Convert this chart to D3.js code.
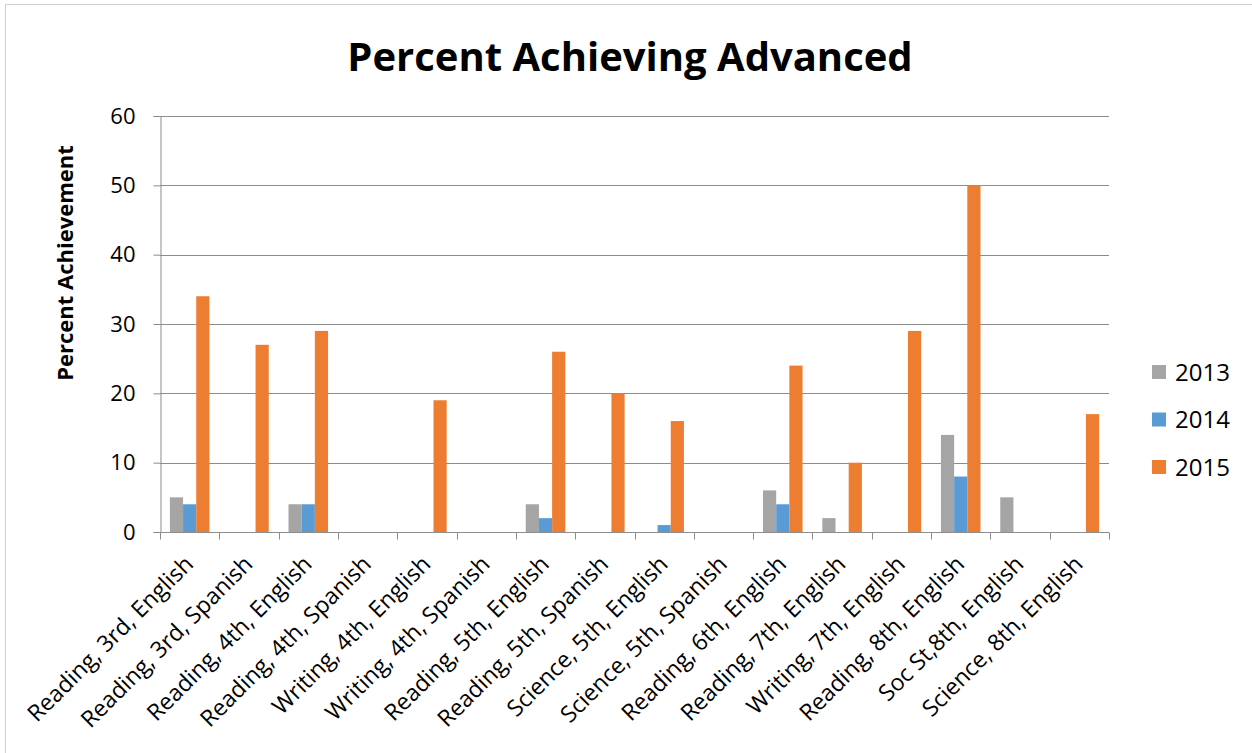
<!DOCTYPE html>
<html>
<head>
<meta charset="utf-8">
<script src="https://cdn.jsdelivr.net/npm/d3@7"></script>
<style>
    body { margin: 0; background: #fff; }
    svg { display: block; font-family: "Open Sans", sans-serif; }
</style>
</head>
<body>
<svg id="chart" width="1252" height="753"></svg>
<script>

// Chart data
const categories = [
    "Reading, 3rd, English", "Reading, 3rd, Spanish", "Reading, 4th, English",
    "Reading, 4th, Spanish", "Writing, 4th, English", "Writing, 4th, Spanish",
    "Reading, 5th, English", "Reading, 5th, Spanish", "Science, 5th, English",
    "Science, 5th, Spanish", "Reading, 6th, English", "Reading, 7th, English",
    "Writing, 7th, English", "Reading, 8th, English", "Soc St,8th, English",
    "Science, 8th, English"
];
const seriesNames = ["2013", "2014", "2015"];
const values2013 = [5, 0, 4, 0, 0, 0, 4, 0, 0, 0, 6, 2, 0, 14, 5, 0];
const values2014 = [4, 0, 4, 0, 0, 0, 2, 0, 1, 0, 4, 0, 0, 8, 0, 0];
const values2015 = [34, 27, 29, 0, 19, 0, 26, 20, 16, 0, 24, 10, 29, 50, 0, 17];
const yTicks = [0, 10, 20, 30, 40, 50, 60];
const colors = ["#A5A5A5", "#5B9BD5", "#ED7D31"];

const seriesValues = [values2013, values2014, values2015];

// Plot area
const plot = { left: 160, right: 1109, top: 116, bottom: 532 };

const svg = d3.select("#chart");

// Outer chart border
svg.append("rect")
    .attr("x", 5.5).attr("y", 4.5)
    .attr("width", 1260).attr("height", 760)
    .attr("fill", "none")
    .attr("stroke", "#D0D0D0")
    .attr("stroke-width", 1);

// Scales
const x = d3.scaleBand()
    .domain(categories)
    .range([plot.left, plot.right])
    .paddingInner(0).paddingOuter(0);

// Excel style gap width of 150% between groups
const bw = x.bandwidth();
const gap = bw * 1.5 / 4.5;
const xInner = d3.scaleBand()
    .domain(seriesNames)
    .range([gap / 2, bw - gap / 2]);

const y = d3.scaleLinear()
    .domain([0, 60])
    .range([plot.bottom, plot.top]);

// Gridlines
svg.append("g")
    .selectAll("line")
    .data(yTicks.slice(1))
    .join("line")
        .attr("x1", plot.left).attr("x2", plot.right)
        .attr("y1", d => Math.round(y(d)) + 0.5)
        .attr("y2", d => Math.round(y(d)) + 0.5)
        .attr("stroke", "#8C8C8C")
        .attr("stroke-width", 1);

// Bars
const rows = categories.map((c, i) => ({
    category: c,
    values: seriesNames.map((s, j) => ({ series: s, value: seriesValues[j][i], color: colors[j] }))
}));

svg.append("g")
    .selectAll("g")
    .data(rows)
    .join("g")
        .attr("transform", d => `translate(${x(d.category)},0)`)
    .selectAll("rect")
    .data(d => d.values)
    .join("rect")
        .attr("x", d => xInner(d.series))
        .attr("width", xInner.bandwidth())
        .attr("y", d => y(d.value))
        .attr("height", d => y(0) - y(d.value))
        .attr("fill", d => d.color);

// Y axis
const yAxis = svg.append("g")
    .attr("transform", `translate(${plot.left + 0.5},0)`)
    .call(d3.axisLeft(y).tickValues(yTicks).tickSize(7).tickPadding(18));
yAxis.select(".domain").attr("stroke", "#8C8C8C");
yAxis.selectAll(".tick line").attr("stroke", "#8C8C8C");
yAxis.selectAll(".tick text")
    .attr("font-family", "Open Sans")
    .attr("font-size", 22)
    .attr("fill", "#000");

// X axis baseline and ticks
const xAxis = svg.append("g")
    .attr("transform", `translate(0,${plot.bottom + 0.5})`);
xAxis.append("line")
    .attr("x1", plot.left).attr("x2", plot.right)
    .attr("stroke", "#8C8C8C");
xAxis.selectAll("line.tick")
    .data(d3.range(categories.length + 1))
    .join("line")
        .classed("tick", true)
        .attr("x1", i => Math.round(plot.left + i * bw) + 0.5)
        .attr("x2", i => Math.round(plot.left + i * bw) + 0.5)
        .attr("y1", 0).attr("y2", 7)
        .attr("stroke", "#8C8C8C");

// Rotated category labels
xAxis.selectAll("text")
    .data(categories)
    .join("text")
        .attr("transform", d => `translate(${x(d) + bw / 2 + 5},${33}) rotate(-45)`)
        .attr("text-anchor", "end")
        .attr("font-size", 23)
        .attr("fill", "#000")
        .text(d => d);

// Title
svg.append("text")
    .attr("x", 630).attr("y", 71)
    .attr("text-anchor", "middle")
    .attr("font-size", 40)
    .attr("font-weight", "bold")
    .attr("fill", "#000")
    .text("Percent Achieving Advanced");

// Y axis title
svg.append("text")
    .attr("transform", `translate(73,263) rotate(-90)`)
    .attr("text-anchor", "middle")
    .attr("font-size", 22)
    .attr("font-weight", "bold")
    .attr("fill", "#000")
    .text("Percent Achievement");

// Legend
const legend = svg.append("g")
    .selectAll("g")
    .data(seriesNames)
    .join("g")
        .attr("transform", (d, i) => `translate(1152,${372 + i * 47.5})`);
legend.append("rect")
    .attr("x", 0).attr("y", -7)
    .attr("width", 14).attr("height", 14)
    .attr("fill", (d, i) => colors[i]);
legend.append("text")
    .attr("x", 23).attr("y", 8.5)
    .attr("font-size", 24)
    .attr("fill", "#000")
    .text(d => d);

</script>
</body>
</html>
